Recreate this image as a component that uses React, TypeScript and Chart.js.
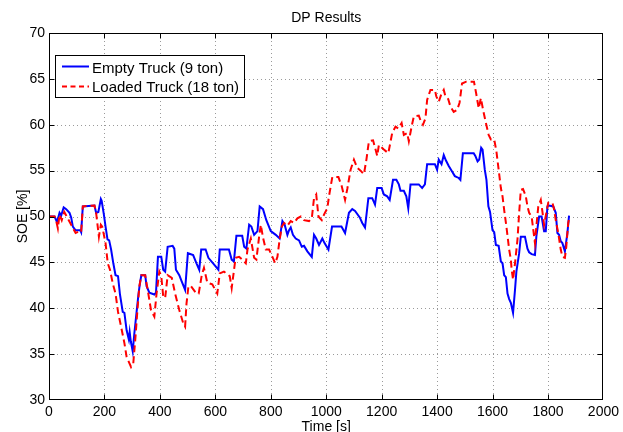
import { useEffect, useRef } from 'react';
import { Chart, registerables } from 'chart.js';

Chart.register(...registerables);

const chartTitle = 'DP Results';
const xLabel = 'Time [s]';
const yLabel = 'SOE [%]';
const seriesNames = ['Empty Truck (9 ton)', 'Loaded Truck (18 ton)'];
const xTicks = [0, 200, 400, 600, 800, 1000, 1200, 1400, 1600, 1800, 2000];
const yTicks = [30, 35, 40, 45, 50, 55, 60, 65, 70];

const emptyTime = [
  0, 20, 29, 38, 44, 53, 62, 74, 80, 86, 96, 113, 116, 122, 164, 170, 178, 187, 190, 198,
  204, 211, 217, 224, 232, 240, 249, 256, 266, 272, 280, 288, 291, 295, 302, 308, 316, 323, 328, 333,
  347, 352, 362, 380, 386, 393, 405, 412, 419, 428, 446, 452, 458, 470, 479, 491, 501, 520, 532, 542,
  549, 565, 575, 592, 611, 616, 649, 659, 667, 676, 697, 704, 712, 722, 730, 740, 752, 760, 772, 784,
  800, 818, 832, 842, 850, 860, 866, 872, 880, 890, 902, 912, 920, 932, 948, 956, 964, 974, 986, 994,
  1008, 1021, 1055, 1068, 1082, 1094, 1104, 1121, 1130, 1140, 1152, 1166, 1176, 1184, 1200, 1208, 1220, 1229, 1241, 1253,
  1262, 1268, 1280, 1289, 1296, 1304, 1334, 1346, 1356, 1364, 1392, 1400, 1406, 1416, 1424, 1432, 1442, 1454, 1464, 1478,
  1484, 1493, 1532, 1538, 1546, 1552, 1559, 1564, 1572, 1578, 1585, 1591, 1600, 1606, 1612, 1622, 1630, 1636, 1642, 1648,
  1654, 1660, 1666, 1674, 1681, 1686, 1696, 1702, 1717, 1726, 1732, 1741, 1753, 1758, 1768, 1777, 1786, 1792, 1798, 1804,
  1819, 1828, 1834, 1840, 1846, 1852, 1861, 1870, 1876,
];
const emptySoe = [
  50, 50, 49.4, 50.4, 50.1, 51, 50.8, 50.4, 49.9, 48.9, 48.5, 48.5, 48.3, 51.1, 51.2, 50.4, 50.5, 51.9, 51.7, 50.2,
  48.9, 47.5, 47.4, 46.4, 44.9, 43.6, 43.5, 41.5, 39.6, 39.5, 37.6, 36.6, 37.4, 36.4, 35.3, 37.3, 39.6, 41.6, 42.7, 43.6,
  43.6, 42.4, 41.7, 41.5, 41.7, 45.6, 45.6, 44.2, 44, 46.7, 46.8, 46.5, 44.2, 43.6, 42.9, 42, 46, 45.8, 44.9, 44.2,
  46.4, 46.4, 45.5, 44.9, 44.2, 46.4, 46.4, 45.3, 45.1, 47.9, 47.9, 46.7, 46.5, 49.1, 48.9, 48, 48.4, 51.1, 50.8, 49.6,
  48.4, 48, 47.6, 49.5, 49.1, 48, 48.5, 48.8, 48, 47.6, 47.4, 46.7, 46.8, 46.2, 45.6, 48, 47.6, 46.9, 47.6, 47.1,
  46.4, 48.9, 48.9, 48.2, 50.4, 50.8, 50.6, 49.9, 49.3, 48.8, 52, 52, 51.3, 53.1, 53.1, 52.4, 52.2, 51.8, 54, 54,
  53.5, 52.8, 52.8, 52.2, 50.9, 53.5, 53.5, 53.1, 53.5, 55.7, 55.7, 55.1, 56.2, 55.7, 56.7, 56.1, 55.5, 54.9, 54.4, 54.2,
  54, 56.9, 56.9, 56.6, 56, 56.2, 57.5, 57.3, 55.1, 54, 51.1, 50.5, 48.5, 48.3, 46.9, 46.8, 45.1, 44.9, 43.6, 43.4,
  41.6, 41, 40.6, 39.5, 42, 44, 46, 47.8, 47.8, 46.5, 46.1, 45.9, 45.8, 47.8, 50, 50, 48.4, 48.4, 51.1, 51.2,
  51.1, 50.4, 48.2, 48, 47.3, 47.1, 46.2, 48.2, 50.1,
];

const loadedTime = [
  0, 20, 26, 32, 38, 46, 55, 62, 80, 96, 110, 116, 122, 164, 170, 180, 187, 192, 204, 212,
  220, 230, 240, 249, 260, 272, 280, 296, 304, 311, 319, 326, 333, 347, 356, 368, 380, 388, 398, 405,
  412, 419, 428, 443, 455, 470, 484, 491, 496, 503, 512, 532, 540, 551, 559, 571, 589, 607, 616, 631,
  652, 659, 673, 686, 698, 710, 716, 728, 740, 748, 758, 764, 772, 782, 794, 806, 816, 824, 832, 840,
  848, 860, 872, 884, 896, 908, 920, 938, 948, 956, 964, 972, 984, 992, 1004, 1010, 1022, 1044, 1056, 1068,
  1076, 1088, 1100, 1112, 1124, 1136, 1145, 1154, 1169, 1178, 1184, 1190, 1208, 1224, 1238, 1250, 1260, 1272, 1280, 1292,
  1298, 1308, 1316, 1334, 1340, 1349, 1358, 1364, 1376, 1392, 1397, 1406, 1416, 1424, 1430, 1440, 1448, 1460, 1472, 1481,
  1490, 1505, 1533, 1541, 1550, 1558, 1566, 1576, 1586, 1594, 1606, 1614, 1622, 1630, 1636, 1642, 1650, 1660, 1666, 1669,
  1674, 1681, 1690, 1696, 1702, 1710, 1720, 1726, 1732, 1741, 1750, 1753, 1758, 1765, 1774, 1780, 1786, 1794, 1801, 1816,
  1822, 1828, 1837, 1846, 1852, 1861, 1866, 1873, 1878,
];
const loadedSoe = [
  50, 50, 49.5, 48.7, 50.2, 49.6, 50.5, 50.1, 49.1, 48.2, 48.4, 48.3, 51.1, 51.2, 50.4, 47.8, 49.1, 48.9, 47.1, 44.9,
  44.2, 42.7, 41.6, 39.6, 38, 36.2, 34.7, 33.6, 34, 36.5, 39.8, 42.4, 43.6, 43.6, 42, 39.8, 39.1, 41.6, 44, 43.5,
  41.3, 41.1, 43.6, 43.3, 41.6, 39.8, 38.4, 38, 40.5, 42.4, 42.4, 41.6, 41.6, 43.6, 44.4, 42.8, 42.6, 41.6, 43.8, 44,
  43.5, 42.2, 45.5, 45.6, 45.3, 44.9, 46.4, 47.6, 45.5, 45.3, 47.8, 49.1, 47.7, 46.4, 46.4, 45.6, 44.9, 45.6, 47.5, 48.9,
  49.3, 49, 49.5, 49.3, 49.8, 50, 49.6, 49.5, 49.8, 52, 52.4, 50, 49.6, 50.2, 50.9, 52.2, 54.3, 54.3, 53.3, 51.8,
  53, 55.1, 56.2, 55.3, 55, 54.6, 56.2, 58.2, 58.3, 57.3, 56.6, 57.8, 57.3, 56.9, 59.1, 59.8, 59.6, 60.2, 58.9, 59.1,
  58.2, 59.8, 60.9, 61, 60.5, 60, 60.7, 62.7, 63.8, 63.8, 63.1, 62.5, 63.4, 63.8, 63.1, 62.8, 62, 61.4, 61.6, 62.4,
  64.5, 64.7, 64.7, 63.4, 61.8, 62.9, 61.6, 60.2, 58.9, 58.4, 58.4, 57.1, 55.1, 53.1, 52.2, 50.7, 48.9, 46.4, 45.3, 44.2,
  43.1, 44.9, 47.5, 50.4, 52.9, 53, 52.2, 51.1, 50.4, 50, 47.8, 47.1, 48.9, 51.1, 51.8, 50.5, 49.1, 50.4, 51.5, 51.5,
  50.8, 49.6, 48.2, 46.4, 45.6, 45.5, 46.7, 49.3, 50,
];

const FONT = '"Liberation Sans", Arial, Helvetica, sans-serif';

function toPoints(t: number[], v: number[]) {
  return t.map((x, i) => ({ x, y: v[i] }));
}

export default function App() {
  const ref = useRef<HTMLCanvasElement>(null);

  useEffect(() => {
    const canvas = ref.current;
    if (!canvas) return;

    const decor = {
      id: 'decor',
      beforeDatasetsDraw(chart: any) {
        const { ctx, chartArea, scales } = chart;
        const { left, right, top, bottom } = chartArea;
        ctx.save();
        ctx.strokeStyle = '#9a9a9a';
        ctx.lineWidth = 1;
        ctx.setLineDash([1, 3]);
        ctx.beginPath();
        xTicks.slice(1, -1).forEach((v) => {
          const px = Math.round(scales.x.getPixelForValue(v)) + 0.5;
          ctx.moveTo(px, top);
          ctx.lineTo(px, bottom);
        });
        yTicks.slice(1, -1).forEach((v) => {
          const py = Math.round(scales.y.getPixelForValue(v)) + 0.5;
          ctx.moveTo(left, py);
          ctx.lineTo(right, py);
        });
        ctx.stroke();
        ctx.restore();
      },
      afterDatasetsDraw(chart: any) {
        const { ctx, chartArea, scales } = chart;
        const { left, right, top, bottom } = chartArea;
        const L = Math.round(left) + 0.5;
        const R = Math.round(right) - 0.5;
        const T = Math.round(top) + 0.5;
        const B = Math.round(bottom) - 0.5;
        ctx.save();
        ctx.setLineDash([]);
        ctx.strokeStyle = '#000';
        ctx.lineWidth = 1;
        ctx.strokeRect(L, T, R - L, B - T);
        ctx.beginPath();
        const tl = 5;
        xTicks.slice(1, -1).forEach((v) => {
          const px = Math.round(scales.x.getPixelForValue(v)) + 0.5;
          ctx.moveTo(px, B);
          ctx.lineTo(px, B - tl);
          ctx.moveTo(px, T);
          ctx.lineTo(px, T + tl);
        });
        yTicks.slice(1, -1).forEach((v) => {
          const py = Math.round(scales.y.getPixelForValue(v)) + 0.5;
          ctx.moveTo(L, py);
          ctx.lineTo(L + tl, py);
          ctx.moveTo(R, py);
          ctx.lineTo(R - tl, py);
        });
        ctx.stroke();

        // legend
        ctx.fillStyle = '#fff';
        ctx.fillRect(55, 55, 190, 43);
        ctx.strokeStyle = '#000';
        ctx.lineWidth = 1;
        ctx.strokeRect(55.5, 55.5, 189, 42);
        ctx.lineWidth = 2;
        ctx.strokeStyle = '#0000ff';
        ctx.beginPath();
        ctx.moveTo(62, 66.5);
        ctx.lineTo(89, 66.5);
        ctx.stroke();
        ctx.strokeStyle = '#ff0000';
        ctx.setLineDash([5, 3.5]);
        ctx.beginPath();
        ctx.moveTo(62, 86.5);
        ctx.lineTo(89, 86.5);
        ctx.stroke();
        ctx.setLineDash([]);
        ctx.fillStyle = '#000';
        ctx.font = `15px ${FONT}`;
        ctx.textAlign = 'left';
        ctx.textBaseline = 'alphabetic';
        ctx.fillText(seriesNames[0], 92, 72.5);
        ctx.fillText(seriesNames[1], 92, 92);

        // titles
        const cx = (left + right) / 2;
        ctx.font = `14px ${FONT}`;
        ctx.textAlign = 'center';
        ctx.fillText(chartTitle, cx, 21.7);
        ctx.fillText(xLabel, cx, 431);
        ctx.translate(26.5, (top + bottom) / 2);
        ctx.rotate(-Math.PI / 2);
        ctx.fillText(yLabel, 0, 0);
        ctx.restore();
      },
    };

    const chart = new Chart(canvas, {
      type: 'line',
      data: {
        datasets: [
          {
            label: seriesNames[0],
            data: toPoints(emptyTime, emptySoe),
            borderColor: '#0000ff',
            backgroundColor: '#0000ff',
            borderWidth: 2,
            pointRadius: 0,
            tension: 0,
            fill: false,
            order: 1,
          },
          {
            label: seriesNames[1],
            data: toPoints(loadedTime, loadedSoe),
            borderColor: '#ff0000',
            backgroundColor: '#ff0000',
            borderWidth: 2,
            borderDash: [7, 4],
            pointRadius: 0,
            tension: 0,
            fill: false,
            order: 0,
          },
        ],
      },
      options: {
        animation: false,
        responsive: false,
        devicePixelRatio: 1,
        layout: { padding: { left: 0, right: 19, top: 33, bottom: 0 } },
        plugins: {
          legend: { display: false },
          title: { display: false },
          tooltip: { enabled: false },
        },
        scales: {
          x: {
            type: 'linear',
            min: 0,
            max: 2000,
            afterFit: (s: any) => {
              s.height = 32;
            },
            afterBuildTicks: (s: any) => {
              s.ticks = xTicks.map((v) => ({ value: v }));
            },
            ticks: {
              font: { family: FONT, size: 14 },
              color: '#000',
              padding: 4,
              maxRotation: 0,
              autoSkip: false,
              callback: (v: any) => String(v),
            },
            grid: { display: false, drawTicks: false },
            border: { display: false },
          },
          y: {
            type: 'linear',
            min: 30,
            max: 70,
            afterFit: (s: any) => {
              s.width = 49;
            },
            afterBuildTicks: (s: any) => {
              s.ticks = yTicks.map((v) => ({ value: v }));
            },
            ticks: {
              font: { family: FONT, size: 14 },
              color: '#000',
              padding: 4,
              autoSkip: false,
              callback: (v: any) => String(v),
            },
            grid: { display: false, drawTicks: false },
            border: { display: false },
          },
        },
      },
      plugins: [decor],
    });

    return () => chart.destroy();
  }, []);

  return (
    <div style={{ position: 'absolute', left: 0, top: 0, width: 623, height: 432, background: '#fff' }}>
      <canvas ref={ref} width={623} height={432} style={{ display: 'block', width: 623, height: 432 }} />
    </div>
  );
}
